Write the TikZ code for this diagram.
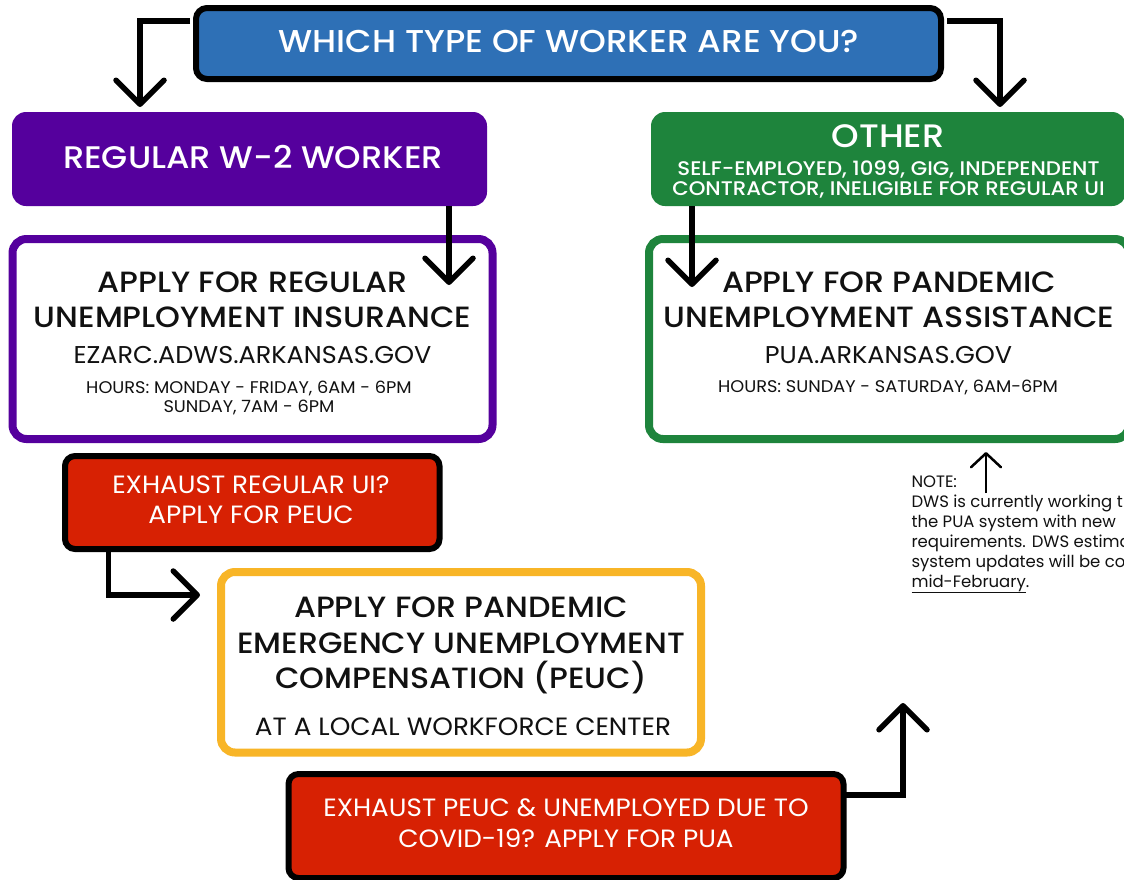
\documentclass[tikz,border=0pt]{standalone}
\usepackage{fontspec}
\setmainfont{Poppins}[FakeStretch=1.05]
\newfontfamily\pmed{Poppins Medium}[FakeStretch=1.08]
\newfontfamily\pnote{Poppins}
\usetikzlibrary{arrows.meta}
\definecolor{cblue}{HTML}{2E70B6}
\definecolor{cpurple}{HTML}{55009D}
\definecolor{cgreen}{HTML}{1E843C}
\definecolor{cred}{HTML}{D72103}
\definecolor{cyellow}{HTML}{F8B527}
\definecolor{cink}{HTML}{111111}
\newcommand\fTitle{\pmed\fontsize{31.6}{36}\selectfont}
\newcommand\fBig{\pmed\fontsize{31.2}{36}\selectfont}
\newcommand\fOther{\pmed\fontsize{32.5}{36}\selectfont}
\newcommand\fSub{\pmed\fontsize{19.7}{22}\selectfont}
\newcommand\fHead{\pmed\fontsize{29.3}{34}\selectfont}
\newcommand\fUrl{\fontsize{24.3}{30}\selectfont}
\newcommand\fHours{\fontsize{16.9}{20}\selectfont}
\newcommand\fRed{\fontsize{25}{28}\selectfont}
\newcommand\fCenter{\fontsize{25}{28}\selectfont}
\newcommand\fNote{\pnote\fontsize{16.5}{20}\selectfont}
\begin{document}
\begin{tikzpicture}[x=1pt,y=-1pt,
  titlebox/.style={draw=black, line width=6pt, fill=cblue, rounded corners=11pt, inner sep=0pt, outer sep=0pt},
  solidbox/.style={fill=#1, draw=none, rounded corners=14pt, inner sep=0pt, outer sep=0pt},
  framebox/.style={draw=#1, line width=8pt, fill=white, rounded corners=14pt, inner sep=0pt, outer sep=0pt},
  redbox/.style={draw=black, line width=6pt, fill=cred, rounded corners=10pt, inner sep=0pt, outer sep=0pt},
  txt/.style={anchor=base, inner sep=0pt, outer sep=0pt},
  wtxt/.style={txt, text=white},
  ktxt/.style={txt, text=cink},
  ntxt/.style={anchor=base west, inner sep=0pt, outer sep=0pt, text=cink, font=\fNote},
  arr/.style={draw=black, line width=5.5pt, line join=miter,
    -{Straight Barb[length=24pt, width=48pt, round]}},
  narr/.style={draw=black, line width=2.5pt,
    -{Straight Barb[length=14pt, width=30pt, round]}}
]
\path[use as bounding box, clip] (0,0) rectangle (1124,879);
\fill[white] (0,0) rectangle (1124,879);

% boxes
\node[titlebox, minimum width=745pt, minimum height=71pt] (title) at (568.5,43.5) {};
\node[solidbox=cpurple, minimum width=475pt, minimum height=94pt] (w2) at (249.5,159) {};
\node[solidbox=cgreen, minimum width=475pt, minimum height=94pt] (other) at (888.5,159) {};
\node[framebox=cpurple, minimum width=480pt, minimum height=200pt] (ui) at (252.5,339) {};
\node[framebox=cgreen, minimum width=480pt, minimum height=200pt] (pua) at (889,339) {};
\node[redbox, minimum width=374.5pt, minimum height=93pt] (red1) at (252.25,502.5) {};
\node[framebox=cyellow, minimum width=480pt, minimum height=180.5pt] (peuc) at (461,662.25) {};
\node[redbox, minimum width=555pt, minimum height=104pt] (red2) at (566,826) {};

% texts
\node[wtxt, font=\fTitle] (tt) at (569,52) {WHICH TYPE OF WORKER ARE YOU?};
\node[wtxt, font=\fBig] (w2t) at (253,168) {REGULAR W-2 WORKER};
\node[wtxt, font=\fOther] (ot) at (888,147) {OTHER};
\node[wtxt, font=\fSub] (os1) at (888.5,175) {SELF-EMPLOYED, 1099, GIG, INDEPENDENT};
\node[wtxt, font=\fSub] (os2) at (888.5,195) {CONTRACTOR, INELIGIBLE FOR REGULAR UI};

\node[ktxt, font=\fHead] (ui1) at (252.5,292) {APPLY FOR REGULAR};
\node[ktxt, font=\fHead] (ui2) at (252.5,327) {UNEMPLOYMENT INSURANCE};
\node[ktxt, font=\fUrl] (ui3) at (252.5,363) {EZARC.ADWS.ARKANSAS.GOV};
\node[ktxt, font=\fHours] (ui4) at (249,393) {HOURS: MONDAY - FRIDAY, 6AM - 6PM};
\node[ktxt, font=\fHours] (ui5) at (249,412) {SUNDAY, 7AM - 6PM};

\node[ktxt, font=\fHead] (pu1) at (889,292) {APPLY FOR PANDEMIC};
\node[ktxt, font=\fHead] (pu2) at (889,327) {UNEMPLOYMENT ASSISTANCE};
\node[ktxt, font=\fUrl] (pu3) at (888.5,363) {PUA.ARKANSAS.GOV};
\node[ktxt, font=\fHours] (pu4) at (888,392) {HOURS: SUNDAY - SATURDAY, 6AM-6PM};

\node[wtxt, font=\fRed] (r11) at (251,493) {EXHAUST REGULAR UI?};
\node[wtxt, font=\fRed] (r12) at (251,523) {APPLY FOR PEUC};

\node[ktxt, font=\fHead] (pe1) at (461,617) {APPLY FOR PANDEMIC};
\node[ktxt, font=\fHead] (pe2) at (461,653) {EMERGENCY UNEMPLOYMENT};
\node[ktxt, font=\fHead] (pe3) at (461,688) {COMPENSATION (PEUC)};
\node[ktxt, font=\fCenter] (pe4) at (463,735) {AT A LOCAL WORKFORCE CENTER};

\node[wtxt, font=\fRed] (r21) at (566,816) {EXHAUST PEUC \& UNEMPLOYED DUE TO};
\node[wtxt, font=\fRed] (r22) at (566,847) {COVID-19? APPLY FOR PUA};

\node[ntxt] (n1) at (911.5,487) {NOTE:};
\node[ntxt] (n2) at (911.5,507) {DWS is currently working t};
\node[ntxt] (n3) at (911.5,527) {the PUA system with new};
\node[ntxt] (n4) at (911.5,547) {requirements. DWS estima};
\node[ntxt] (n5) at (911.5,567) {system updates will be cor};
\node[ntxt] (n6) at (911.5,587) {\underline{mid-February}.};

% connectors
\coordinate (c2) at (903,703);
\draw[arr] ([xshift=-6pt,yshift=22.5pt]title.west) -| ([xshift=-109.5pt,yshift=5pt]w2.north);
\draw[arr] ([xshift=6pt,yshift=22.5pt]title.east) -| ([xshift=111.5pt,yshift=5pt]other.north);
\draw[arr] ([xshift=199.5pt]w2.south) -- ([xshift=196.5pt,yshift=-46pt]ui.north);
\draw[arr] ([xshift=-196.5pt]other.south) -- ([xshift=-197pt,yshift=-48pt]pua.north);
\draw[arr] ([xshift=-144pt]red1.south) |- ([xshift=-21pt,yshift=67.25pt]peuc.west);
\draw[arr] ([yshift=31pt]red2.east) -| (c2);
\draw[narr] ([xshift=74.5pt,yshift=-6pt]n1.base west) -- ([xshift=97pt,yshift=-13pt]pua.south);
\end{tikzpicture}
\end{document}
